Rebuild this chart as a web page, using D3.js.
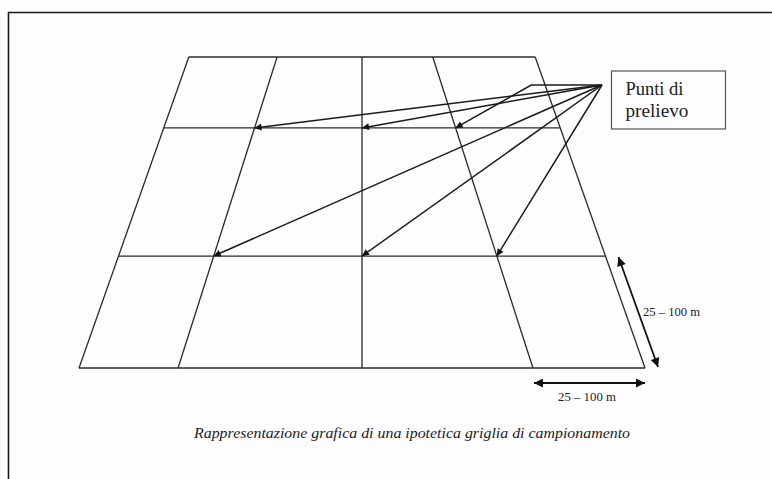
<!DOCTYPE html>
<html><head><meta charset="utf-8">
<script src="https://cdn.jsdelivr.net/npm/d3@7"></script>
<style>html,body{margin:0;padding:0;background:#fdfdfd;}svg{display:block;}
text{font-family:"Liberation Serif","Times New Roman",Times,serif;}</style>
</head><body>
<svg id="chart" width="772" height="479"></svg>
<script>
// ---- data (grid in a 0..100 plan space) ----
const topCols    = [19.4, 35.0, 50.0, 62.5, 80.6];   // column positions along far (top) edge
const bottomCols = [0.0, 17.5, 50.0, 80.2, 100.0];   // column positions along near (bottom) edge
const rows       = [0.0, 22.8, 64.0, 100.0];          // row lines (0 = far edge, 100 = near edge)
const labelLines = ["Punti di", "prelievo"];
const labelAnchor = [92.4, 9.0];                      // point where arrows start
const bendPoint   = [79.9, 9.0];                      // bend of the third arrow
// sampling points: [column index, row index, bent?]
const targets = [[1,1,false],[2,1,false],[3,1,true],[1,2,false],[2,2,false],[3,2,false]];
const dimLabel = "25 \u2013 100 m";
const caption  = "Rappresentazione grafica di una ipotetica griglia di campionamento";

const svg = d3.select("#chart");
const x = d3.scaleLinear().domain([0,100]).range([79,645]);
const y = d3.scaleLinear().domain([0,100]).range([57,368]);

// frame
svg.append("rect").attr("width",772).attr("height",479).attr("fill","#fdfdfd");
svg.append("path").attr("d",`M8.5,479V12.5H772`).attr("fill","none").attr("stroke","#1a1a1a").attr("stroke-width",1.6);

function colX(c, r){ return x(topCols[c] + (bottomCols[c]-topCols[c])*r/100); }

const defs = svg.append("defs");
defs.append("marker").attr("id","ah").attr("viewBox","0 0 10 10").attr("refX",10).attr("refY",5)
  .attr("markerWidth",9).attr("markerHeight",7).attr("markerUnits","userSpaceOnUse").attr("orient","auto-start-reverse")
  .append("path").attr("d","M0,0L10,5L0,10Z").attr("fill","#111");
defs.append("marker").attr("id","dh").attr("viewBox","0 0 10 10").attr("refX",10).attr("refY",5)
  .attr("markerWidth",11).attr("markerHeight",9).attr("markerUnits","userSpaceOnUse").attr("orient","auto-start-reverse")
  .append("path").attr("d","M0,0L10,5L0,10Z").attr("fill","#111");

const g = svg.append("g").attr("stroke","#2a2a2a").attr("stroke-width",1.3).attr("fill","none");
topCols.forEach((t,i)=>{
  g.append("line").attr("x1",colX(i,0)).attr("y1",y(0)).attr("x2",colX(i,100)).attr("y2",y(100));
});
rows.forEach(r=>{
  g.append("line").attr("x1",colX(0,r)).attr("y1",y(r)).attr("x2",colX(topCols.length-1,r)).attr("y2",y(r));
});

// arrows
const line = d3.line();
const ag = svg.append("g").attr("stroke","#1a1a1a").attr("stroke-width",1.5).attr("fill","none");
targets.forEach(([c,r,bent])=>{
  const pts = [[x(labelAnchor[0]), y(labelAnchor[1])]];
  if (bent) pts.push([x(bendPoint[0]), y(bendPoint[1])]);
  pts.push([colX(c, rows[r]), y(rows[r])]);
  ag.append("path").attr("d", line(pts)).attr("marker-end","url(#ah)");
});

// label box
const bx = x(labelAnchor[0]) + 9.5, byy = y(labelAnchor[1]) - 14;
svg.append("rect").attr("x",bx).attr("y",byy).attr("width",114).attr("height",58)
  .attr("fill","#fdfdfd").attr("stroke","#555").attr("stroke-width",1.2);
const lw = [58, 63];
svg.append("g").selectAll("text").data(labelLines).join("text")
  .attr("x",bx+14).attr("y",(d,i)=>byy+24+i*22)
  .attr("font-size",19).attr("fill","#222")
  .attr("textLength",(d,i)=>lw[i]).attr("lengthAdjust","spacingAndGlyphs").text(d=>d);

// dimension arrows
const last = topCols.length-1;
const bY = y(100)+15;
svg.append("line").attr("x1",colX(last-1,100)+1).attr("y1",bY).attr("x2",colX(last,100)).attr("y2",bY)
  .attr("stroke","#111").attr("stroke-width",1.8).attr("marker-start","url(#dh)").attr("marker-end","url(#dh)");
svg.append("text").attr("x",558).attr("y",bY+18)
  .attr("font-size",13).attr("fill","#222")
  .attr("textLength",58).attr("lengthAdjust","spacingAndGlyphs").text(dimLabel);
const off = 13;
svg.append("line").attr("x1",colX(last,rows[2])+off).attr("y1",y(rows[2])+1).attr("x2",colX(last,100)+off).attr("y2",y(100)-1)
  .attr("stroke","#111").attr("stroke-width",1.8).attr("marker-start","url(#dh)").attr("marker-end","url(#dh)");
svg.append("text").attr("x",643).attr("y",y((rows[2]+100)/2)+4)
  .attr("font-size",13).attr("fill","#222")
  .attr("textLength",57).attr("lengthAdjust","spacingAndGlyphs").text(dimLabel);

// caption
svg.append("text").attr("x",194).attr("y",438)
  .attr("font-style","italic").attr("font-size",15.5)
  .attr("fill","#222").attr("textLength",436).attr("lengthAdjust","spacingAndGlyphs").text(caption);
</script>
</body></html>
